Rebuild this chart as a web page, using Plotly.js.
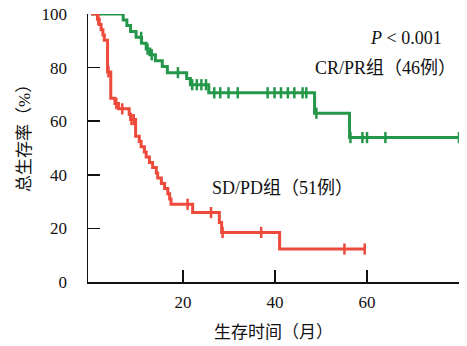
<!DOCTYPE html>
<html>
<head>
<meta charset="utf-8">
<script src="https://cdn.plot.ly/plotly-3.0.1.min.js"></script>
<style>html,body{margin:0;padding:0;background:#fff;}#chart{width:467px;height:346px;}</style>
</head>
<body>
<div id="chart"></div>
<script>
// CR/PR group (46 patients): Kaplan-Meier steps
var crprTime = [0, 7.0, 7.8, 8.6, 9.8, 11.0, 12.0, 12.8, 14.0, 15.5, 16.6, 20.8, 21.6, 25.6, 48.6, 56.2, 80];
var crprSurv = [100, 97.8, 95.7, 93.5, 91.3, 89.1, 86.9, 84.8, 82.6, 80.4, 78.1, 75.9, 73.6, 70.6, 63.0, 53.9, 53.9];
var crprCensT = [10.9, 12.3, 13.2, 18.9, 22.0, 23.0, 24.0, 25.0, 26.8, 28.1, 29.9, 31.9, 38.4, 39.9, 41.3, 42.8, 44.2, 46.0, 46.8, 49.0, 56.4, 59.0, 60.0, 64.0, 80.0];
var crprCensS = [91.3, 86.9, 84.8, 78.1, 73.6, 73.6, 73.6, 73.6, 70.6, 70.6, 70.6, 70.6, 70.6, 70.6, 70.6, 70.6, 70.6, 70.6, 70.6, 63.0, 53.9, 53.9, 53.9, 53.9, 53.9];

// SD/PD group (51 patients)
var sdpdTime = [0, 1.4, 1.8, 2.2, 2.6, 2.9, 3.6, 4.3, 5.2, 6.0, 8.3, 8.6, 9.7, 10.5, 10.9, 11.6, 12.0, 12.7, 13.4, 14.2, 14.5, 15.3, 16.0, 16.7, 17.1, 17.4, 22.1, 27.9, 28.4, 41.0, 59.5];
var sdpdSurv = [100, 98.0, 96.1, 94.1, 92.2, 90.2, 78.4, 68.6, 66.6, 64.6, 62.6, 60.6, 54.4, 52.4, 50.5, 48.5, 46.6, 44.6, 42.7, 40.7, 38.8, 36.8, 34.9, 32.9, 31.0, 29.0, 25.9, 22.2, 18.5, 12.3, 12.3];
var sdpdCensT = [1.6, 3.8, 5.5, 6.8, 8.8, 9.3, 21.0, 26.1, 28.6, 37.0, 55.1, 59.5];
var sdpdCensS = [98.0, 78.4, 66.6, 64.6, 60.6, 60.6, 29.0, 25.9, 18.5, 18.5, 12.3, 12.3];

var xTicks = [20, 40, 60, 80];
var yTicks = [0, 20, 40, 60, 80, 100];

var green = '#24974a';
var red = '#ee4a3b';
var serif = '"Liberation Serif", "Times New Roman", "Noto Sans CJK SC", serif';
var cjk = '"Liberation Serif", "Noto Sans CJK SC", serif';

var traces = [
  {x: crprTime, y: crprSurv, mode: 'lines', line: {shape: 'hv', color: green, width: 3}, hoverinfo: 'skip'},
  {x: crprCensT, y: crprCensS, mode: 'markers', marker: {symbol: 'line-ns', size: 8, line: {color: green, width: 2.5}}, hoverinfo: 'skip'},
  {x: sdpdTime, y: sdpdSurv, mode: 'lines', line: {shape: 'hv', color: red, width: 3}, hoverinfo: 'skip'},
  {x: sdpdCensT, y: sdpdCensS, mode: 'markers', marker: {symbol: 'line-ns', size: 8, line: {color: red, width: 2.5}}, hoverinfo: 'skip'}
];

var layout = {
  width: 467, height: 346,
  margin: {l: 88, r: 8, t: 14, b: 64},
  paper_bgcolor: '#fff', plot_bgcolor: '#fff',
  showlegend: false,
  font: {family: serif, size: 17, color: '#111'},
  xaxis: {
    range: [-0.65, 80], tickvals: xTicks, ticktext: xTicks.map(String),
    ticks: 'inside', ticklen: 12, tickwidth: 1.5, tickcolor: '#111',
    showline: true, linecolor: '#111', linewidth: 1.5, showgrid: false, zeroline: false,
    tickfont: {family: serif, size: 17, color: '#111'}, ticklabelstandoff: 4
  },
  yaxis: {
    range: [0, 100], tickvals: yTicks, ticktext: yTicks.map(String),
    ticks: 'inside', ticklen: 12, tickwidth: 1.5, tickcolor: '#111',
    showline: true, linecolor: '#111', linewidth: 1.5, showgrid: false, zeroline: false,
    tickfont: {family: serif, size: 17, color: '#111'}, ticklabelstandoff: 16
  },
  annotations: [
    {xref: 'x', yref: 'y', x: 76.8, y: 91.0, xanchor: 'right', yanchor: 'middle', showarrow: false,
     text: '<i>P</i> < 0.001', font: {family: serif, size: 18, color: '#111'}},
    {xref: 'x', yref: 'y', x: 79.7, y: 79.9, xanchor: 'right', yanchor: 'middle', showarrow: false,
     text: 'CR/PR组（46例）', font: {family: cjk, size: 18, color: '#111'}},
    {xref: 'x', yref: 'y', x: 25.8, y: 35.1, xanchor: 'left', yanchor: 'middle', showarrow: false,
     text: 'SD/PD组（51例）', font: {family: cjk, size: 18, color: '#111'}},
    {xref: 'paper', yref: 'paper', x: 0.5, y: 0, yshift: -50, xanchor: 'center', yanchor: 'middle', showarrow: false,
     text: '生存时间（月）', font: {family: cjk, size: 17, color: '#111'}},
    {xref: 'paper', yref: 'paper', x: 0, y: 0.5, xshift: -64, yshift: 14, xanchor: 'center', yanchor: 'middle', showarrow: false, textangle: -90,
     text: '总生存率（%）', font: {family: cjk, size: 17, color: '#111'}}
  ]
};

Plotly.newPlot('chart', traces, layout, {displayModeBar: false, staticPlot: true});
</script>
</body>
</html>
